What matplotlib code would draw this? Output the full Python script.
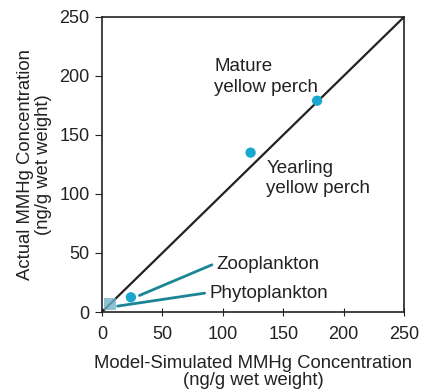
import matplotlib.pyplot as plt

plt.rcParams['font.family'] = ['Liberation Sans', 'DejaVu Sans']

# simulated vs actual MMHg (ng/g wet weight)
groups = ["Phytoplankton", "Zooplankton", "Yearling\nyellow perch", "Mature\nyellow perch"]
simulated = [6.5, 24, 123, 178]
actual = [6.8, 12.5, 135, 179]
label_xy = [(89, 16), (95, 40), (136, 113), (93, 199)]
leader_from = [(85, 16), (91, 40)]
leader_to = [(13, 5), (31, 14)]

ticks = [0, 50, 100, 150, 200, 250]

fig = plt.figure(figsize=(4.21, 3.92), dpi=100)
ax = fig.add_axes([0.242, 0.204, 0.718, 0.753])

# 1:1 line
ax.plot([0, 250], [0, 250], color="#222222", linewidth=1.6, zorder=2)

# plankton points
ax.scatter(simulated[0], actual[0], s=70, marker="s", color="#6fb3c8", alpha=0.8,
           edgecolors="none", zorder=3)
ax.scatter(simulated[1:], actual[1:], s=55, color="#1aa7cf", edgecolors="none", zorder=4)

# leader lines for plankton labels
for (x0, y0), (x1, y1) in zip(leader_from, leader_to):
    ax.plot([x0, x1], [y0, y1], color="#1b8596", linewidth=2, solid_capstyle="round", zorder=3)

for name, (tx, ty) in zip(groups, label_xy):
    ax.text(tx, ty, name, fontsize=13.5, ha="left", va="center", color="#222222",
            linespacing=1.25)

ax.set_xlim(0, 250)
ax.set_ylim(0, 250)
ax.set_xticks(ticks)
ax.set_yticks(ticks)
ax.tick_params(axis="x", direction="inout", length=6, labelsize=13, colors="#222222", pad=7)
ax.tick_params(axis="y", direction="out", length=5, labelsize=13, colors="#222222", pad=4)
for s in ax.spines.values():
    s.set_linewidth(1.2)
    s.set_color("#222222")

ax.set_xlabel("Model-Simulated MMHg Concentration\n(ng/g wet weight)", fontsize=13.3,
              labelpad=9, linespacing=1.0, color="#222222")
ax.set_ylabel("Actual MMHg Concentration\n(ng/g wet weight)", fontsize=13.3,
              labelpad=5, linespacing=1.1, color="#222222")

fig.savefig("out.png", dpi=100)
